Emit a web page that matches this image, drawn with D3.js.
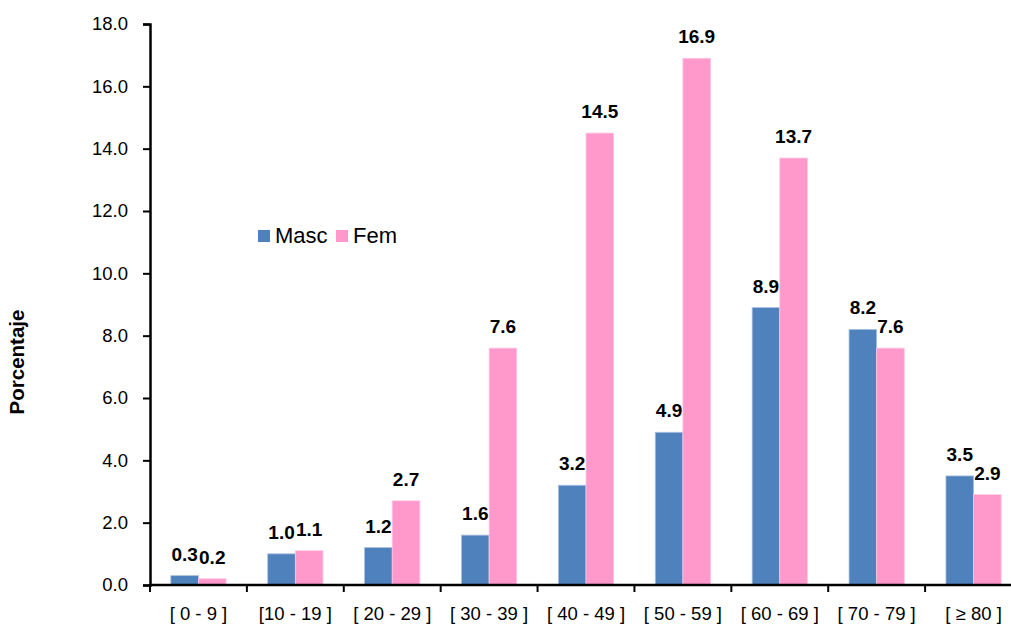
<!DOCTYPE html>
<html lang="es">
  <head>
    <meta charset="utf-8">
    <style>
      body { margin: 0; background: #fff; }
      svg { display: block; font-family: "Liberation Sans", Arial, sans-serif; }
      .tick text { font-size: 18.5px; fill: #000; }
      .val { font-size: 19px; font-weight: bold; fill: #000; }
    </style>
  </head>
  <body>
  </body>
  <script src="https://cdn.jsdelivr.net/npm/d3@7"></script>

  <script>
  var categories = ["[ 0 - 9 ]", "[10 - 19 ]", "[ 20 - 29 ]", "[ 30 - 39 ]", "[ 40 - 49 ]",
                    "[ 50 - 59 ]", "[ 60 - 69 ]", "[ 70 - 79 ]", "[ \u2265 80 ]"];
  var series = ["Masc", "Fem"];
  var masc = [0.3, 1.0, 1.2, 1.6, 3.2, 4.9, 8.9, 8.2, 3.5];
  var fem = [0.2, 1.1, 2.7, 7.6, 14.5, 16.9, 13.7, 7.6, 2.9];
  var yTicks = [0, 2, 4, 6, 8, 10, 12, 14, 16, 18];
  var colors = { Masc: "#4f81bd", Fem: "#ff99cc" };

  var width = 1011;
  var height = 628;
  var plotLeft = 150, plotRight = 1022, plotTop = 24, plotBottom = 585;

  var svg = d3.select("body")
    .append("svg")
    .attr('width', width)
    .attr('height', height);

  var x0 = d3.scaleBand()
    .domain(categories)
    .range([plotLeft, plotRight])
    .paddingInner(0.43)
    .paddingOuter(0.215);

  var x1 = d3.scaleBand()
    .domain(series)
    .range([0, x0.bandwidth()]);

  var y = d3.scaleLinear()
    .domain([0, 18])
    .range([plotBottom, plotTop]);

  var rows = categories.map(function(c, i) {
    return { cat: c, values: [{ key: "Masc", v: masc[i] }, { key: "Fem", v: fem[i] }] };
  });

  // bars
  var groups = svg.selectAll("g.grp")
    .data(rows)
    .enter().append("g")
    .attr("class", "grp")
    .attr("transform", function(d) { return "translate(" + x0(d.cat) + ",0)"; });

  groups.selectAll("rect")
    .data(function(d) { return d.values; })
    .enter().append("rect")
    .attr("x", function(d) { return x1(d.key); })
    .attr("y", function(d) { return y(d.v); })
    .attr("width", x1.bandwidth())
    .attr("height", function(d) { return y(0) - y(d.v); })
    .attr("fill", function(d) { return colors[d.key]; })
    .attr("stroke", function(d) { return d.key == "Fem" ? "#ffc6e4" : "#a9c0de"; })
    .attr("stroke-width", 0.8);

  groups.selectAll("text")
    .data(function(d) { return d.values; })
    .enter().append("text")
    .attr("class", "val")
    .attr("x", function(d) { return x1(d.key) + x1.bandwidth() / 2; })
    .attr("y", function(d) { return y(d.v) - 15; })
    .attr("text-anchor", "middle")
    .text(function(d) { return d.v.toFixed(1); });

  // y axis
  var yAxis = svg.append("g")
    .attr("transform", "translate(" + plotLeft + ",0)")
    .call(d3.axisLeft(y).tickValues(yTicks).tickFormat(d3.format(".1f")).tickSize(7).tickPadding(15));
  yAxis.select(".domain").attr("stroke", "#000").attr("stroke-width", 2.5);
  yAxis.selectAll(".tick line").attr("stroke", "#000").attr("stroke-width", 2);

  // x axis, ticks between categories
  var xAxis = svg.append("g")
    .attr("transform", "translate(0," + plotBottom + ")")
    .call(d3.axisBottom(x0).tickSize(0).tickPadding(22));
  xAxis.select(".domain").remove();
  xAxis.append("line")
    .attr("x1", plotLeft).attr("x2", plotRight)
    .attr("stroke", "#000").attr("stroke-width", 2.5);
  xAxis.selectAll("line.sep")
    .data(d3.range(categories.length + 1))
    .enter().append("line")
    .attr("class", "sep")
    .attr("x1", function(i) { return plotLeft + i * x0.step(); })
    .attr("x2", function(i) { return plotLeft + i * x0.step(); })
    .attr("y1", 0).attr("y2", 7)
    .attr("stroke", "#000").attr("stroke-width", 2);

  // y title
  svg.append("text")
    .attr("transform", "translate(24,362) rotate(-90)")
    .attr("text-anchor", "middle")
    .style("font-size", "20.5px")
    .style("font-weight", "bold")
    .text("Porcentaje");

  // legend
  var legend = svg.append("g").attr("transform", "translate(258,230)");
  var items = legend.selectAll("g")
    .data(series)
    .enter().append("g")
    .attr("transform", function(d, i) { return "translate(" + (i * 78) + ",0)"; });
  items.append("rect")
    .attr("width", 12).attr("height", 12)
    .attr("fill", function(d) { return colors[d]; });
  items.append("text")
    .attr("x", 17).attr("y", 13)
    .style("font-size", "22px")
    .text(function(d) { return d; });
  </script>
</html>
